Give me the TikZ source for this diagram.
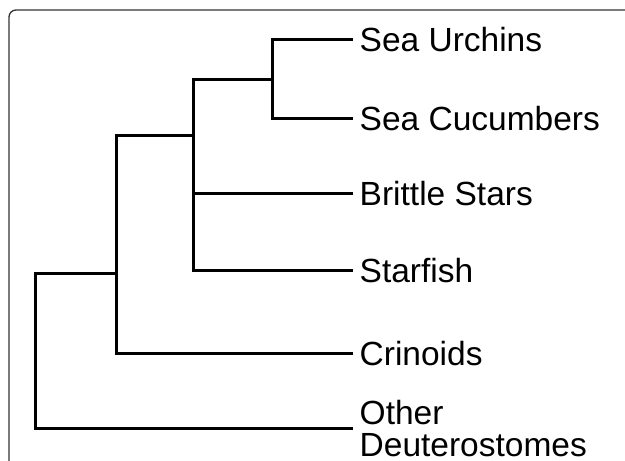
\documentclass[tikz,border=0pt]{standalone}
\usepackage{fontspec}
\setmainfont{Liberation Sans}
\begin{document}
\begin{tikzpicture}[x=1pt,y=-1pt,
  leaf/.style={anchor=west,inner xsep=6.5pt,inner ysep=0pt,font=\fontsize{33.5}{32}\selectfont,text height=24pt,text depth=0pt},
  leaftwo/.style={anchor=west,inner xsep=6.5pt,inner ysep=0pt,font=\fontsize{33.5}{32}\selectfont,align=left},
  branch/.style={line width=3pt,black,line join=miter},
  frame/.style={line width=1.3pt,draw=black!80,rounded corners=7pt}]
\useasboundingbox (0,0) rectangle (625,461);
\clip (0,0) rectangle (625,461);
\draw[frame] (9,10) rectangle (660,500);
\node[leaf] (su) at (353,39.5) {Sea Urchins};
\node[leaf] (sc) at (353,118.5) {Sea Cucumbers};
\node[leaf] (bs) at (353,193) {Brittle Stars};
\node[leaf] (sf) at (353,270) {Starfish};
\node[leaf] (cr) at (353,353) {Crinoids};
\node[leaftwo] (od) at (353,428.5) {Other\\Deuterostomes};
\coordinate (n1) at (272,79);
\coordinate (n2) at (193,135);
\coordinate (n3) at (116.5,273);
\coordinate (n4) at (35.5,350);
\draw[branch] (su.west) -| (n1) |- (sc.west);
\draw[branch] (n1) -| (n2) |- (sf.west);
\draw[branch] (n2) |- (bs.west);
\draw[branch] (n2) -| (n3) |- (cr.west);
\draw[branch] (n3) -| (n4) |- (od.west);
\end{tikzpicture}
\end{document}
